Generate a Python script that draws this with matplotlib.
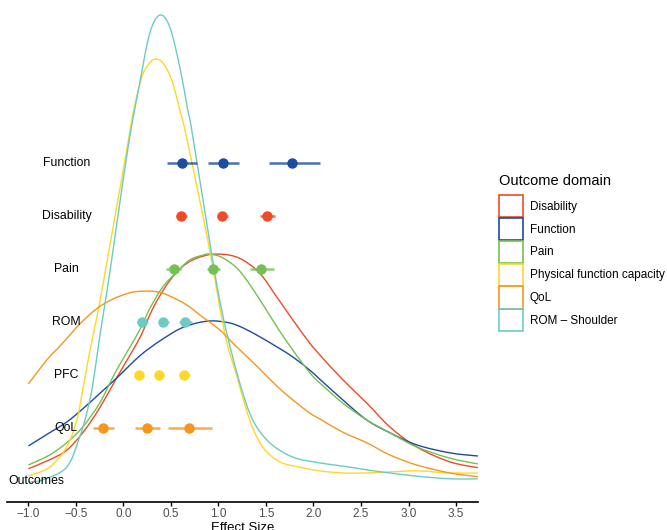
import matplotlib
matplotlib.use("Agg")
import matplotlib.pyplot as plt
from matplotlib.patches import Patch, PathPatch
from matplotlib.path import Path

plt.rcParams['font.family'] = ['Liberation Sans', 'DejaVu Sans']

# Farben pro Domäne
colors = {
    "Disability": "#EE4B26",
    "Function": "#1B4C9E",
    "Pain": "#75C052",
    "Physical function capacity": "#FDD824",
    "QoL": "#F7951F",
    "ROM - Shoulder": "#6DCBC3",
}

# Zeilen mit Punktschätzern (Effektgröße) und Konfidenzintervallen
rows = ["Function", "Disability", "Pain", "ROM", "PFC", "QoL"]
row_y = [6, 5, 4, 3, 2, 1]
row_domain = ["Function", "Disability", "Pain", "ROM - Shoulder", "Physical function capacity", "QoL"]

est_function = [0.62, 1.045, 1.77]
lo_function = [0.46, 0.89, 1.53]
hi_function = [0.77, 1.22, 2.07]

est_disability = [0.61, 1.04, 1.51]
lo_disability = [0.55, 0.98, 1.435]
hi_disability = [0.67, 1.105, 1.60]

est_pain = [0.53, 0.94, 1.45]
lo_pain = [0.45, 0.875, 1.33]
hi_pain = [0.61, 1.02, 1.58]

est_rom = [0.20, 0.42, 0.65]
lo_rom = [0.14, 0.37, 0.58]
hi_rom = [0.26, 0.48, 0.72]

est_pfc = [0.16, 0.375, 0.64]
lo_pfc = [0.15, 0.365, 0.59]
hi_pfc = [0.17, 0.385, 0.70]

est_qol = [-0.215, 0.25, 0.685]
lo_qol = [-0.32, 0.12, 0.47]
hi_qol = [-0.10, 0.38, 0.93]

est_all = [est_function, est_disability, est_pain, est_rom, est_pfc, est_qol]
lo_all = [lo_function, lo_disability, lo_pain, lo_rom, lo_pfc, lo_qol]
hi_all = [hi_function, hi_disability, hi_pain, hi_rom, hi_pfc, hi_qol]

# Dichtekurven, y in Zeileneinheiten
x_dis = [-1.0, -0.776, -0.597, -0.428, -0.249, -0.06, 0.172, 0.308, 0.456, 0.593, 0.729, 0.877, 0.982, 1.119, 1.256, 1.435, 1.614, 1.782, 1.961, 2.066, 2.308, 2.56, 2.803, 3.087, 3.435, 3.73]
y_dis = [0.23, 0.40, 0.58, 0.91, 1.38, 1.98, 2.70, 3.25, 3.70, 4.00, 4.17, 4.26, 4.28, 4.26, 4.17, 3.92, 3.47, 3.04, 2.60, 2.38, 1.91, 1.47, 1.02, 0.64, 0.36, 0.25]

x_fun = [-1.0, -0.776, -0.597, -0.428, -0.249, -0.06, 0.172, 0.382, 0.593, 0.772, 0.94, 1.119, 1.256, 1.435, 1.614, 1.782, 1.961, 2.066, 2.308, 2.56, 2.803, 3.087, 3.435, 3.73]
y_fun = [0.66, 0.91, 1.11, 1.36, 1.65, 1.96, 2.36, 2.64, 2.87, 2.98, 3.02, 2.98, 2.89, 2.72, 2.53, 2.34, 2.09, 1.92, 1.53, 1.15, 0.91, 0.68, 0.53, 0.47]

x_pain = [-1.0, -0.776, -0.597, -0.428, -0.249, -0.081, 0.172, 0.277, 0.414, 0.561, 0.698, 0.835, 0.908, 1.045, 1.224, 1.435, 1.614, 1.782, 1.961, 2.066, 2.308, 2.56, 2.803, 3.087, 3.435, 3.73]
y_pain = [0.30, 0.49, 0.72, 1.02, 1.47, 2.06, 2.85, 3.25, 3.66, 3.94, 4.17, 4.26, 4.28, 4.21, 3.96, 3.42, 2.91, 2.47, 2.04, 1.85, 1.47, 1.15, 0.91, 0.64, 0.43, 0.32]

x_pfc = [-1.0, -0.776, -0.597, -0.49, -0.428, -0.355, -0.281, -0.207, 0.035, 0.098, 0.193, 0.277, 0.34, 0.414, 0.508, 0.593, 0.666, 0.887, 1.066, 1.193, 1.329, 1.466, 1.645, 1.856, 2.066, 2.308, 2.56, 2.803, 3.087, 3.435, 3.73]
y_pfc = [0.09, 0.26, 0.64, 1.15, 1.72, 2.43, 3.08, 3.79, 6.25, 6.91, 7.62, 7.89, 7.96, 7.89, 7.57, 7.00, 6.47, 4.55, 2.79, 1.98, 1.15, 0.64, 0.36, 0.26, 0.19, 0.15, 0.15, 0.17, 0.19, 0.15, 0.15]

x_qol = [-1.0, -0.807, -0.639, -0.46, -0.281, -0.113, 0.066, 0.203, 0.351, 0.487, 0.666, 0.835, 1.014, 1.119, 1.256, 1.435, 1.614, 1.782, 1.961, 2.066, 2.308, 2.56, 2.803, 3.087, 3.435, 3.73]
y_qol = [1.83, 2.28, 2.60, 2.96, 3.25, 3.43, 3.55, 3.58, 3.57, 3.49, 3.32, 3.09, 2.85, 2.66, 2.42, 2.11, 1.79, 1.53, 1.28, 1.17, 0.92, 0.72, 0.49, 0.30, 0.15, 0.08]

x_rom = [-1.0, -0.85, -0.597, -0.46, -0.386, -0.323, -0.239, -0.155, 0.045, 0.172, 0.277, 0.382, 0.487, 0.593, 0.677, 0.719, 0.908, 0.993, 1.087, 1.224, 1.361, 1.54, 1.782, 2.066, 2.308, 2.56, 2.803, 3.087, 3.435, 3.73]
y_rom = [-0.02, 0.02, 0.26, 0.83, 1.28, 1.81, 2.85, 3.79, 6.25, 7.51, 8.45, 8.79, 8.57, 7.81, 7.00, 6.62, 4.51, 3.60, 2.79, 1.85, 1.15, 0.72, 0.45, 0.34, 0.28, 0.21, 0.15, 0.09, 0.04, 0.04]

curves = [
    ("Disability", x_dis, y_dis),
    ("Function", x_fun, y_fun),
    ("Pain", x_pain, y_pain),
    ("Physical function capacity", x_pfc, y_pfc),
    ("QoL", x_qol, y_qol),
    ("ROM - Shoulder", x_rom, y_rom),
]


def smooth_path(xs, ys):
    n = len(xs)
    verts = [(xs[0], ys[0])]
    codes = [Path.MOVETO]
    for i in range(n - 1):
        i0 = max(i - 1, 0)
        i3 = min(i + 2, n - 1)
        c1 = (xs[i] + (xs[i + 1] - xs[i0]) / 6, ys[i] + (ys[i + 1] - ys[i0]) / 6)
        c2 = (xs[i + 1] - (xs[i3] - xs[i]) / 6, ys[i + 1] - (ys[i3] - ys[i]) / 6)
        verts += [c1, c2, (xs[i + 1], ys[i + 1])]
        codes += [Path.CURVE4, Path.CURVE4, Path.CURVE4]
    return Path(verts, codes)


fig = plt.figure(figsize=(6.67, 5.3), dpi=100)
ax = fig.add_axes([0.0105, 0.053, 0.706, 0.947])

for name, xs, ys in curves:
    ax.add_patch(PathPatch(smooth_path(xs, ys), facecolor='none', edgecolor=colors[name], lw=1.0, zorder=2))

for i in range(len(rows)):
    c = colors[row_domain[i]]
    for e, lo, hi in zip(est_all[i], lo_all[i], hi_all[i]):
        ax.plot([lo, hi], [row_y[i], row_y[i]], color=c, lw=1.8, alpha=0.8, zorder=3, solid_capstyle='butt')
        ax.plot(e, row_y[i], 'o', color=c, ms=6.5, mec=c, zorder=4)
    ax.text(-0.60, row_y[i], rows[i], ha='center', va='center', fontsize=8.8, color='black')
ax.text(-0.92, 0, "Outcomes", ha='center', va='center', fontsize=8.8, color='black')

ax.set_xlim(-1.225, 3.73)
ax.set_ylim(-0.396, 9.075)
ax.set_xticks([-1.0, -0.5, 0.0, 0.5, 1.0, 1.5, 2.0, 2.5, 3.0, 3.5])
ax.set_yticks([])
for s in ['top', 'right', 'left']:
    ax.spines[s].set_visible(False)
ax.spines['bottom'].set_linewidth(1.2)
ax.tick_params(axis='x', length=3, width=1.0, labelsize=8.5, labelcolor='#4d4d4d', pad=1.5)
ax.set_xlabel("Effect Size", fontsize=9.5, labelpad=1)

# Legende mit leeren Kästchen
fig.text(499 / 667, 1 - 181 / 530, "Outcome domain", fontsize=10.5, ha='left', va='center')
handles = [Patch(facecolor='none', edgecolor=colors[n], lw=1.2) for n, _, _ in curves]
labels = ["Disability", "Function", "Pain", "Physical function capacity", "QoL", "ROM \u2013 Shoulder"]
fig.legend(handles, labels, loc='upper left', bbox_to_anchor=(0.748, 0.632), frameon=False,
           fontsize=8.5, handlelength=2.05, handleheight=2.52, labelspacing=0.05,
           handletextpad=0.55, borderpad=0, borderaxespad=0)

fig.savefig("out.png", dpi=100)
